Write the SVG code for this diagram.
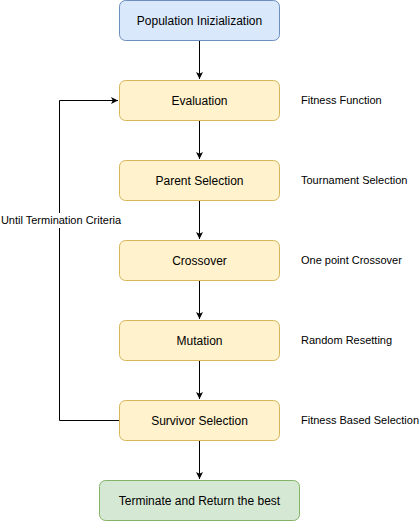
<svg xmlns="http://www.w3.org/2000/svg" width="420" height="521" viewBox="0 0 420 521">
<defs>
<marker id="arr" markerWidth="8" markerHeight="8" refX="7" refY="4" orient="auto" markerUnits="userSpaceOnUse">
<path d="M0,0.5 L7,4 L0,7.5 L1.75,4 Z" fill="#000"/>
</marker>
<style>
text{font-family:"Liberation Sans",Arial,sans-serif;font-size:12px;fill:#000}
.c{text-anchor:middle}
.s{font-size:11px}
.blue{fill:#dae8fc;stroke:#6c8ebf}
.yel{fill:#fff2cc;stroke:#d6b656}
.grn{fill:#d5e8d4;stroke:#82b366}
.e{fill:none;stroke:#000;stroke-width:1}
</style>
</defs>
<rect width="420" height="521" fill="#fff"/>
<g id="connectors">
<path class="e" d="M199.5,40.5 V79" marker-end="url(#arr)"/>
<path class="e" d="M199.5,120.5 V159" marker-end="url(#arr)"/>
<path class="e" d="M199.5,200.5 V239" marker-end="url(#arr)"/>
<path class="e" d="M199.5,280.5 V319" marker-end="url(#arr)"/>
<path class="e" d="M199.5,360.5 V399" marker-end="url(#arr)"/>
<path class="e" d="M199.5,440.5 V479" marker-end="url(#arr)"/>
<path class="e" d="M119.5,420.5 H59.5 V100.5 H118" marker-end="url(#arr)"/>
<rect x="1" y="213" width="119" height="15" fill="#fff"/>
<text x="61" y="224" class="c s">Until Termination Criteria</text>
</g>
<g id="n-pop"><rect class="blue" x="119.5" y="0.5" width="160" height="40" rx="6"/><text x="199.5" y="24.5" class="c">Population Inizialization</text></g>
<g id="n-eval"><rect class="yel" x="119.5" y="80.5" width="160" height="40" rx="6"/><text x="199.5" y="104.5" class="c">Evaluation</text></g>
<g id="n-parent"><rect class="yel" x="119.5" y="160.5" width="160" height="40" rx="6"/><text x="199.5" y="184.5" class="c">Parent Selection</text></g>
<g id="n-cross"><rect class="yel" x="119.5" y="240.5" width="160" height="40" rx="6"/><text x="199.5" y="264.5" class="c">Crossover</text></g>
<g id="n-mut"><rect class="yel" x="119.5" y="320.5" width="160" height="40" rx="6"/><text x="199.5" y="344.5" class="c">Mutation</text></g>
<g id="n-surv"><rect class="yel" x="119.5" y="400.5" width="160" height="40" rx="6"/><text x="199.5" y="424.5" class="c">Survivor Selection</text></g>
<g id="n-term"><rect class="grn" x="99.5" y="480.5" width="200" height="40" rx="6"/><text x="199.5" y="504.5" class="c">Terminate and Return the best</text></g>
<g id="l-fit"><text x="301" y="104" class="s">Fitness Function</text></g>
<g id="l-tour"><text x="301" y="184" class="s">Tournament Selection</text></g>
<g id="l-one"><text x="301" y="264" class="s">One point Crossover</text></g>
<g id="l-rand"><text x="301" y="344" class="s">Random Resetting</text></g>
<g id="l-fbs"><text x="301" y="424" class="s">Fitness Based Selection</text></g>
</svg>
